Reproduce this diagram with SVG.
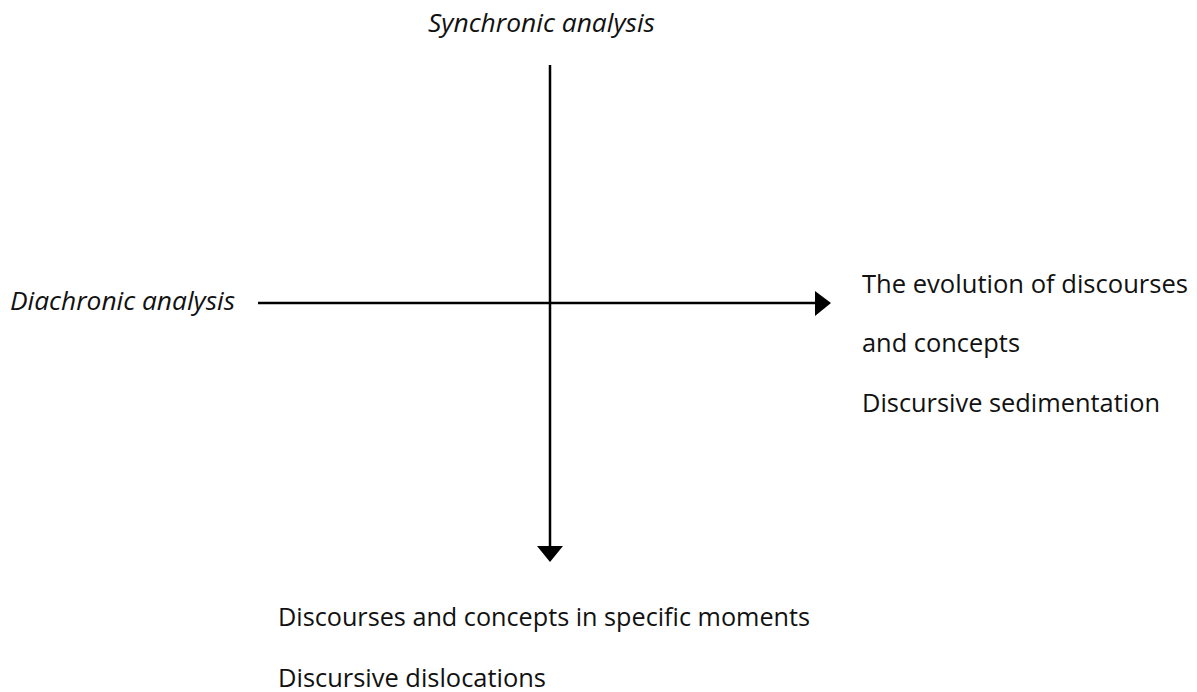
<svg xmlns="http://www.w3.org/2000/svg" width="1197" height="692" viewBox="0 0 1197 692">
<style>
text{font-family:"Open Sans","Noto Sans","Liberation Sans",sans-serif;font-size:25px;fill:#111}
.it{font-style:italic}
.ax{stroke:#000;stroke-width:2.5;fill:none}
</style>
<rect width="1197" height="692" fill="#fff"/>
<g id="connectors">
<line class="ax" x1="258" y1="303" x2="816" y2="303"/>
<polygon points="815,291 831,303 815,316" fill="#000"/>
<line class="ax" x1="550" y1="65" x2="550" y2="546"/>
<polygon points="537,546 563,546 550,562" fill="#000"/>
</g>
<g id="synchronic"><text class="it" x="428" y="32" textLength="227" lengthAdjust="spacingAndGlyphs">Synchronic analysis</text></g>
<g id="diachronic"><text class="it" x="10" y="310" textLength="225" lengthAdjust="spacingAndGlyphs">Diachronic analysis</text></g>
<g id="right">
<text x="862" y="293" textLength="326" lengthAdjust="spacingAndGlyphs">The evolution of discourses</text>
<text x="862" y="352" textLength="158" lengthAdjust="spacingAndGlyphs">and concepts</text>
<text x="862" y="412" textLength="298" lengthAdjust="spacingAndGlyphs">Discursive sedimentation</text>
</g>
<g id="bottom">
<text x="278" y="626" textLength="532" lengthAdjust="spacingAndGlyphs">Discourses and concepts in specific moments</text>
<text x="278" y="687" textLength="268" lengthAdjust="spacingAndGlyphs">Discursive dislocations</text>
</g>
</svg>
